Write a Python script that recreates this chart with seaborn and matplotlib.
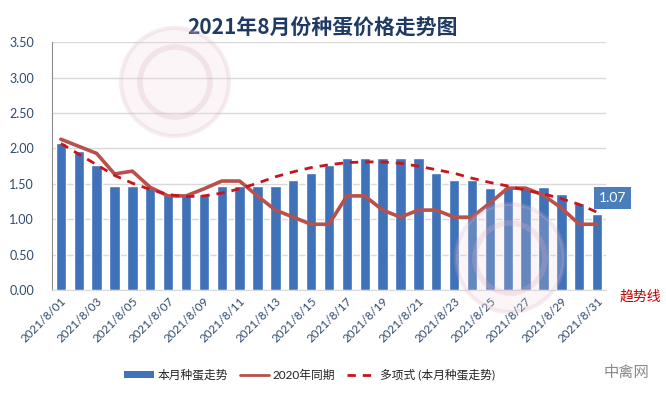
import seaborn as sns
import matplotlib.pyplot as plt
import matplotlib.transforms as mtransforms
import pandas as pd
from matplotlib.patches import Patch, Ellipse
from matplotlib.lines import Line2D

# values (yuan per egg)
days = list(range(1, 32))
price_2021 = [2.07, 1.96, 1.77, 1.47, 1.47, 1.44, 1.36, 1.36, 1.36, 1.47,
              1.47, 1.47, 1.47, 1.56, 1.66, 1.77, 1.86, 1.86, 1.86, 1.86,
              1.86, 1.66, 1.56, 1.56, 1.44, 1.46, 1.46, 1.46, 1.36, 1.23,
              1.07]
price_2020 = [2.13, 2.03, 1.93, 1.64, 1.68, 1.45, 1.33, 1.33, 1.43, 1.54,
              1.54, 1.33, 1.13, 1.03, 0.93, 0.93, 1.33, 1.33, 1.13, 1.03,
              1.13, 1.13, 1.03, 1.03, 1.23, 1.44, 1.44, 1.34, 1.16, 0.93,
              0.93]
trend = [2.07, 1.92, 1.77, 1.62, 1.51, 1.42, 1.35, 1.32, 1.33, 1.37,
         1.43, 1.51, 1.60, 1.67, 1.73, 1.77, 1.80, 1.81, 1.81, 1.79,
         1.75, 1.70, 1.65, 1.58, 1.52, 1.47, 1.41, 1.36, 1.29, 1.21,
         1.10]
tick_days = days[::2]
tick_labels = [f"2021/8/{d:02d}" for d in tick_days]
yticks = [0, 0.5, 1.0, 1.5, 2.0, 2.5, 3.0, 3.5]

df = pd.DataFrame({"day": days, "price": price_2021,
                   "last_year": price_2020, "trend": trend})

sns.set_style("white")
plt.rcParams["font.family"] = ["Lato", "Noto Sans CJK SC", "DejaVu Sans"]

bar_color = "#3F72B8"
line_color = "#B8504B"
dash_color = "#C8141E"
text_color = "#2E4A6E"

fig = plt.figure(figsize=(6.66, 3.98), dpi=100)
ax = fig.add_axes([0.078, 0.271, 0.832, 0.623])

sns.barplot(data=df, x="day", y="price", native_scale=True, width=0.58,
            color=bar_color, saturation=1, ax=ax, zorder=2)
sns.lineplot(data=df, x="day", y="last_year", color=line_color, lw=2.6,
             ax=ax, zorder=3)
sns.lineplot(data=df, x="day", y="trend", color=dash_color, lw=2.0,
             ax=ax, zorder=4, dashes=(3, 2.5))

ax.set_xlim(0.5, 31.5)
ax.set_ylim(0, 3.5)
ax.set_yticks(yticks)
ax.set_yticklabels([f"{v:.2f}" for v in yticks], color=text_color, fontsize=9)
ax.set_xticks(tick_days)
ax.set_xticklabels(tick_labels, rotation=45, ha="right", rotation_mode="anchor",
                   color=text_color, fontsize=8.5)
shift = mtransforms.ScaledTranslation(-7 / 72, -6 / 72, fig.dpi_scale_trans)
for lab in ax.get_xticklabels():
    lab.set_transform(lab.get_transform() + shift)
ax.tick_params(axis="both", length=0)
ax.tick_params(axis="y", pad=13)
ax.tick_params(axis="x", pad=4)
ax.set_xlabel("")
ax.set_ylabel("")
ax.grid(axis="y", color="#D9D9D9", lw=1, zorder=0)
ax.set_axisbelow(True)
for s in ["top", "right"]:
    ax.spines[s].set_visible(False)
ax.spines["left"].set_color("#8C8C8C")
ax.spines["bottom"].set_color("#D9D9D9")

# label on the last bar
ax.text(31.1, 1.3, f"{price_2021[-1]:.2f}", color="white", fontsize=10,
        ha="left", va="center", clip_on=False, zorder=6,
        bbox=dict(boxstyle="square,pad=0.35", fc="#4A7EBB", ec="none"))

fig.suptitle("2021年8月份种蛋价格走势图", x=0.485, y=0.955, fontsize=15,
             fontweight="bold", color="#1F3B63", family=["Noto Sans CJK SC"])

fig.text(0.962, 0.255, "趋势线", color="#C00000", fontsize=10,
         ha="center", va="center", family=["Noto Sans CJK SC"])
fig.text(0.94, 0.065, "中禽网", color="#8A8A8A", fontsize=11,
         ha="center", va="center", family=["Noto Sans CJK SC"])

# faint watermark logos
for cx, cy in [(175, 82), (510, 258)]:
    fig.patches.append(Ellipse((cx / 666, 1 - cy / 398), 108 / 666, 108 / 398,
                               transform=fig.transFigure, fc="#EDD3DE",
                               ec="#D9AFC2", lw=3, alpha=0.22, zorder=10))
    fig.patches.append(Ellipse((cx / 666, 1 - cy / 398), 70 / 666, 70 / 398,
                               transform=fig.transFigure, fc="none",
                               ec="#D9AFC2", lw=4, alpha=0.25, zorder=10))

handles = [Patch(fc=bar_color, ec="none"),
           Line2D([], [], color=line_color, lw=2),
           Line2D([], [], color=dash_color, lw=2, ls=(0, (3, 2.5)))]
labels = ["本月种蛋走势", "2020年同期", "多项式 (本月种蛋走势)"]
fig.legend(handles, labels, loc="center", bbox_to_anchor=(0.465, 0.058),
           ncol=3, frameon=False, fontsize=8.5, handlelength=2.5,
           handleheight=0.55, columnspacing=1.0, handletextpad=0.3,
           labelcolor="#222222")

fig.savefig("out.png", dpi=100)
